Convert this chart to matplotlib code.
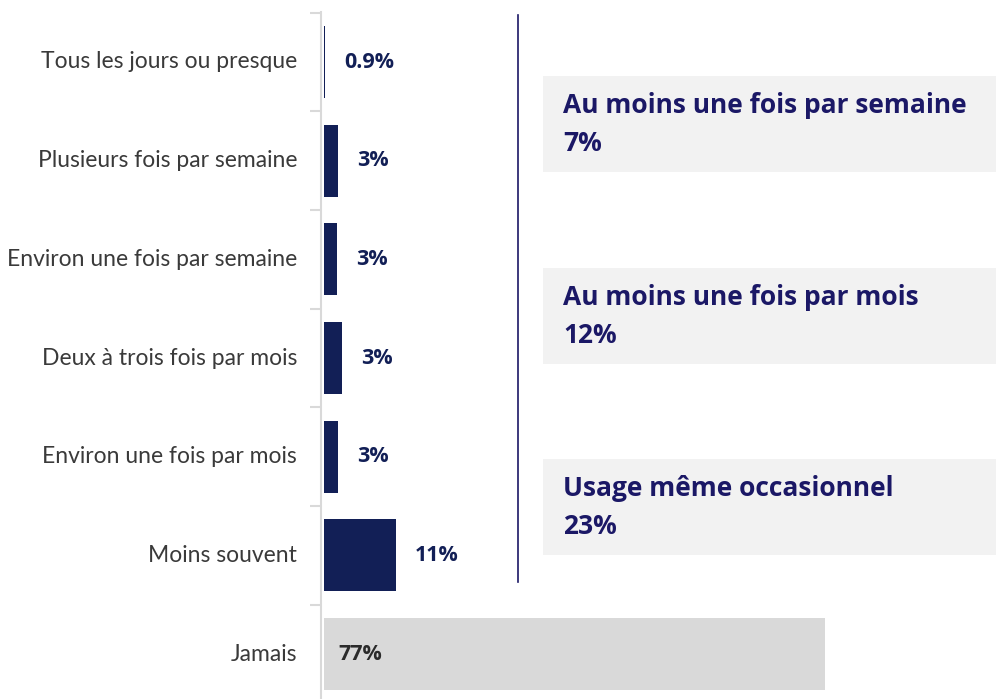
import matplotlib.pyplot as plt
from matplotlib.patches import Rectangle
from matplotlib.lines import Line2D
from matplotlib.transforms import offset_copy

categories = [
    "Tous les jours ou presque",
    "Plusieurs fois par semaine",
    "Environ une fois par semaine",
    "Deux à trois fois par mois",
    "Environ une fois par mois",
    "Moins souvent",
    "Jamais",
]
# bar lengths as drawn (%)
values = [0.2, 2.1, 2.0, 2.8, 2.1, 11, 77]
value_labels = ["0.9%", "3%", "3%", "3%", "3%", "11%", "77%"]

summary_titles = [
    "Au moins une fois par semaine",
    "Au moins une fois par mois",
    "Usage même occasionnel",
]
summary_values = ["7%", "12%", "23%"]

navy = "#121f56"
text_navy = "#1b1866"
W, H = 996, 699

fig = plt.figure(figsize=(W / 100, H / 100), dpi=100)
# axes from x=324px to right edge, y=12px to bottom
ax = fig.add_axes([324 / W, 0, 1 - 324 / W, 1 - 12 / H])

px_per_pct = 6.5
ax.set_xlim(0, (W - 324) / px_per_pct)
ax.set_ylim((H - 62) / 98.67, (12 - 62) / 98.67)

ypos = list(range(len(categories)))
colors = [navy] * 6 + ["#d9d9d9"]
ax.barh(ypos, values, height=0.73, color=colors)

for y, v, lab in zip(ypos, values, value_labels):
    if lab == "77%":
        ax.text(14 / px_per_pct, y, lab, va="center", ha="left", fontsize=15.5,
                fontweight="bold", color="#2b2b2b", family="Open Sans")
    else:
        ax.text(v + 19 / px_per_pct, y, lab, va="center", ha="left", fontsize=15.5,
                fontweight="bold", color=navy, family="Open Sans")

# category labels, drawn as plain text left of the axis
lab_tr = offset_copy(ax.get_yaxis_transform(), fig=fig, x=-27, y=0, units="dots")
for y, cat in zip(ypos, categories):
    ax.text(0, y, cat, transform=lab_tr, ha="right", va="center", fontsize=16.5,
            family="Lato", fontweight="normal", color="#3a3a3a")

ax.set_yticks([])
ax.set_yticks([y + 0.5 for y in ypos[:-1]] + [-0.5], minor=True)
ax.tick_params(axis="y", which="minor", length=8, color="#d9d9d9", width=1.5)
ax.set_xticks([])
for s in ["top", "right", "bottom"]:
    ax.spines[s].set_visible(False)
ax.spines["left"].set_position(("outward", 2))
ax.spines["left"].set_color("#d9d9d9")
ax.spines["left"].set_linewidth(1.5)

# vertical separator
fig.add_artist(Line2D([518 / W, 518 / W], [1 - 15 / H, 1 - 582 / H],
                      color=text_navy, linewidth=1.2))

# summary boxes
box_tops = [76, 268, 459]
for top, title, val in zip(box_tops, summary_titles, summary_values):
    fig.add_artist(Rectangle((543 / W, 1 - (top + 96) / H), (W - 543) / W, 96 / H,
                             facecolor="#f2f2f2", edgecolor="none"))
    fig.text(563 / W, 1 - (top + 37) / H, title, fontsize=19, fontweight="bold",
             color=text_navy, va="baseline", ha="left", family="Open Sans")
    fig.text(563 / W, 1 - (top + 75) / H, val, fontsize=19, fontweight="bold",
             color=text_navy, va="baseline", ha="left", family="Open Sans")

fig.savefig("out.png", dpi=100)
